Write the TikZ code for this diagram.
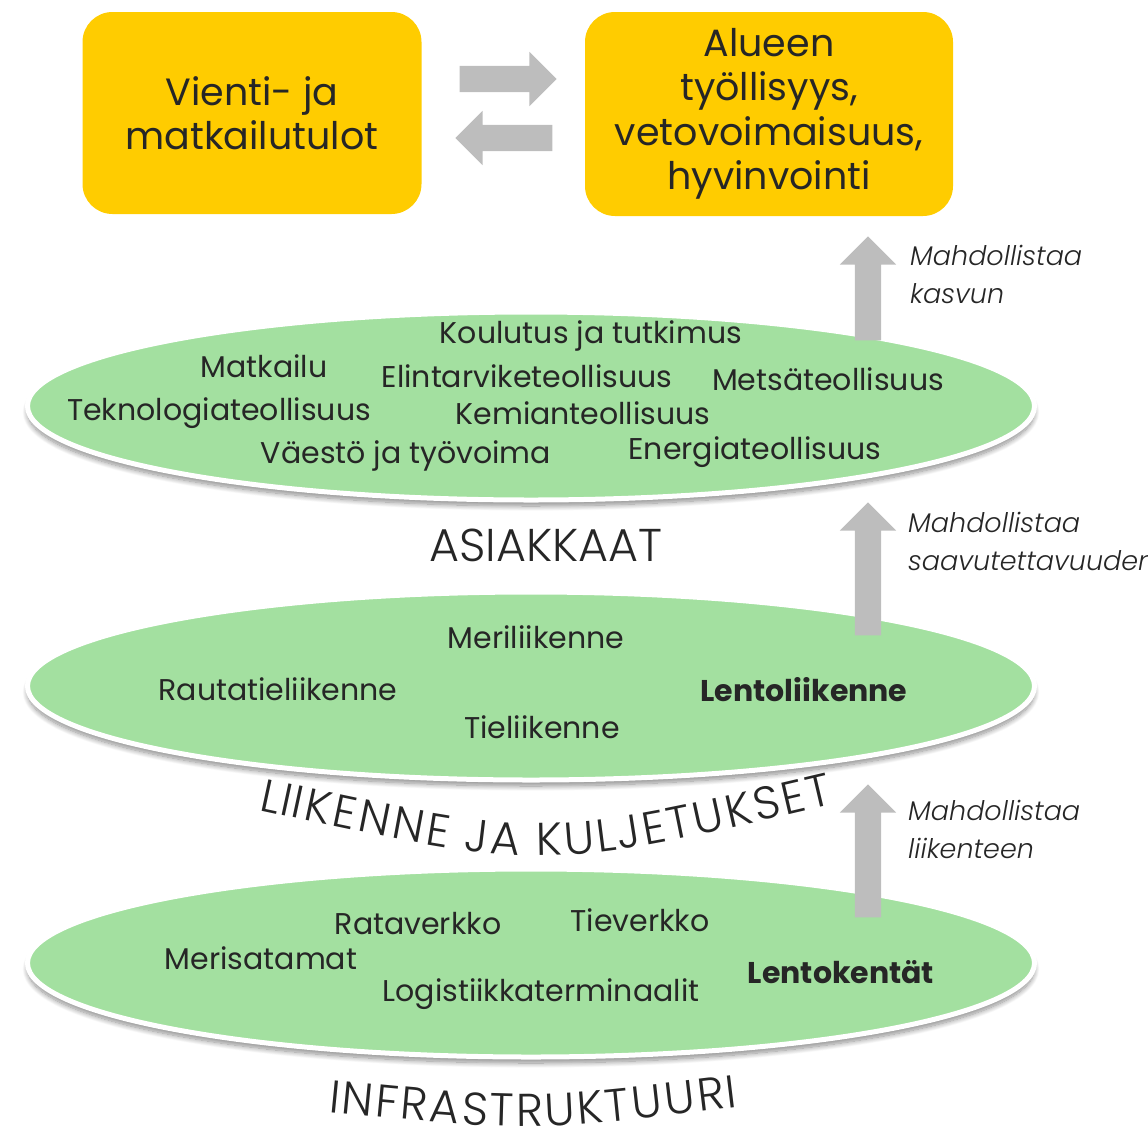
\documentclass[tikz,border=0pt]{standalone}
\usepackage{fontspec}
\setmainfont{Poppins}
\newfontfamily\notefont{Poppins Light}[ItalicFont={Poppins Light Italic}]
\usetikzlibrary{shapes.geometric,shapes.arrows,shadows.blur,decorations.text}
\definecolor{gold}{HTML}{FFCC00}
\definecolor{leaf}{HTML}{A3E0A0}
\definecolor{arrgrey}{HTML}{BDBDBD}
\definecolor{ink}{HTML}{262626}
\tikzset{bx/.append style={fill=gold, rounded corners=30pt, align=center, text=ink, font=\fontsize{38}{44.5}\selectfont}}
\tikzset{ov/.append style={ellipse, fill=leaf, draw=white, line width=5pt, minimum width=1007pt, minimum height=188pt, blur shadow={shadow xshift=0pt, shadow yshift=-6pt, shadow blur steps=12, shadow blur radius=5pt, shadow opacity=45}}}
\tikzset{lb/.append style={text=ink, inner sep=0pt, font=\fontsize{30}{34}\selectfont}}
\tikzset{fa/.append style={single arrow, fill=arrgrey, inner sep=0pt, text width=0pt, text height=26pt, text depth=0pt, single arrow head indent=0pt}}
\tikzset{nt/.append style={text=ink, align=left, anchor=north west, inner sep=0pt, font=\notefont\itshape\fontsize{27}{38}\selectfont}}
\tikzset{lvl/.append style={text=ink, font=\notefont\fontsize{46}{50}\selectfont}}
\tikzset{arc/.append style={decorate, decoration={text effects along path, text align=center, text effects/.cd, text along path, fit text to path, characters={text=ink, font=\notefont\fontsize{46}{50}\selectfont}}}}

\begin{document}
\begin{tikzpicture}[x=1pt,y=-1pt]
                \useasboundingbox (0,0) rectangle (1148,1125);
                % top boxes
                \node[bx, minimum width=339pt, minimum height=202pt] (vienti) at (252,113) {Vienti- ja\\matkailutulot};
                \node[bx, minimum width=368pt, minimum height=204pt] (alue) at (769,114) {Alueen\\työllisyys,\\vetovoimaisuus,\\hyvinvointi};
                \node[fa, single arrow head extend=14pt, minimum height=97pt] (oik) at (501.5,79) {};
                \node[fa, single arrow head extend=14pt, minimum height=97pt, rotate=180] (vas) at (510.5,138) {};
                % levels
                \node[ov] (asiak) at (531,406) {};
                \node[ov] (liik) at (531,686) {};
                \node[ov] (infra) at (531,963) {};
                \node[lb] (koul) at (591,336) {Koulutus ja tutkimus};
                \node[lb] (matk) at (264,366) {Matkailu};
                \node[lb] (elin) at (527,376) {Elintarviketeollisuus};
                \node[lb] (mets) at (828,379) {Metsäteollisuus};
                \node[lb] (tekn) at (219,413) {Teknologiateollisuus};
                \node[lb] (kemi) at (583,413) {Kemianteollisuus};
                \node[lb] (vaes) at (406,456) {Väestö ja työvoima};
                \node[lb] (ener) at (755,452) {Energiateollisuus};
                \node[lb] (meri) at (536,637) {Meriliikenne};
                \node[lb] (raut) at (278,689) {Rautatieliikenne};
                \node[lb, font=\fontsize{30}{34}\selectfont\bfseries] (lent) at (804,690) {Lentoliikenne};
                \node[lb] (tiel) at (542,727) {Tieliikenne};
                \node[lb] (rata) at (418,924) {Rataverkko};
                \node[lb] (tiev) at (640,920) {Tieverkko};
                \node[lb] (mers) at (261,958) {Merisatamat};
                \node[lb, font=\fontsize{30}{34}\selectfont\bfseries] (lkent) at (841,972) {Lentokentät};
                \node[lb] (logi) at (541,994) {Logistiikkaterminaalit};
                % level names
                \node[lvl] (asnimi) at (546,545) {ASIAKKAAT};
                \path[arc, decoration={text={LIIKENNE JA KULJETUKSET}}] (258,810) .. controls (545,872) .. (834,804);
                \path[arc, decoration={text={INFRASTRUKTUURI}}] (328,1112) .. controls (532,1132) .. (738,1107);
                % up arrows and notes
                \node[fa, single arrow head extend=15pt, minimum height=104pt, rotate=90] (yl1) at (868,295) {};
                \node[fa, single arrow head extend=15pt, minimum height=133pt, rotate=90] (yl2) at (868,575.5) {};
                \node[fa, single arrow head extend=15pt, minimum height=133pt, rotate=90] (yl3) at (868,857.5) {};
                \node[nt] (n1) at (910,245) {Mahdollistaa\\kasvun};
                \node[nt] (n2) at (908,512) {Mahdollistaa\\saavutettavuuden};
                \node[nt] (n3) at (908,800) {Mahdollistaa\\liikenteen};
            \end{tikzpicture}
\end{document}
